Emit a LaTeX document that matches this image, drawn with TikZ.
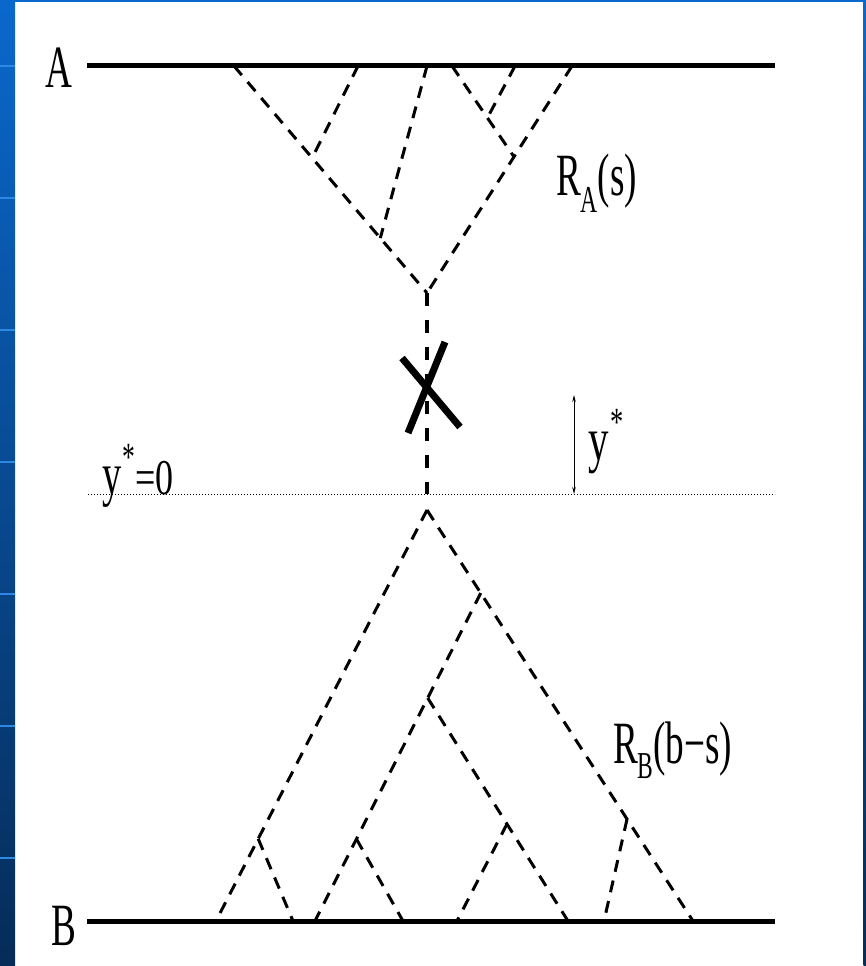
\documentclass[tikz,border=0pt]{standalone}
\usepackage{fontspec}
\setmainfont{Liberation Serif}
\usetikzlibrary{calc,arrows.meta}
\definecolor{slidetop}{RGB}{10,104,204}
\definecolor{slidebot}{RGB}{6,44,88}
\definecolor{slideline}{RGB}{45,135,228}
\tikzset{
  popline/.style={line width=5pt},
  lineage/.style={line width=3pt, dash pattern=on 12pt off 9pt},
  stem/.style={line width=3.2pt, dash pattern=on 13pt off 14pt},
  crossmark/.style={line width=7pt},
  zeroline/.style={line width=0.8pt, dash pattern=on 1pt off 2pt},
  lbl/.style={anchor=base west, inner sep=0pt, outer sep=0pt},
}
\newcommand{\bigtxt}[1]{\scalebox{0.62}[1]{\fontsize{60}{60}\selectfont #1}}
\begin{document}
\begin{tikzpicture}[x=1pt,y=-1pt]
\useasboundingbox (0,0) rectangle (866,966);
\fill[white] (0,0) rectangle (866,966);
\shade[top color=slidetop,bottom color=slidebot] (0,0) rectangle (15,966);
\shade[top color=slidetop,bottom color=slidebot] (863.5,0) rectangle (866,966);
\fill[slidetop] (0,0) rectangle (866,2);
\foreach \yy in {66,198,330,462,594,726,858} \draw[slideline, line width=1.5pt] (0,\yy) -- (15,\yy);

% population lines
\coordinate (Al) at (87,66);  \coordinate (Ar) at (775,66);
\coordinate (Bl) at (87,921); \coordinate (Br) at (775,921);
\draw[popline] (Al) -- (Ar);
\draw[popline] (Bl) -- (Br);
\node[lbl] (labA) at (45,88) {\bigtxt{A}};
\node[lbl] (labB) at (51,945) {\bigtxt{B}};

% upper tree R_A(s)
\coordinate (a1) at (234,66);
\coordinate (a2) at (358,66);
\coordinate (a3) at (427,66);
\coordinate (a4) at (452,66);
\coordinate (a5) at (515,66);
\coordinate (a6) at (572,66);
\coordinate (ra) at (427,293);
\coordinate (j1) at ($(a1)!0.405!(ra)$);
\coordinate (j2) at ($(a1)!0.758!(ra)$);
\coordinate (j3) at ($(a6)!0.40!(ra)$);
\coordinate (j4) at ($(a4)!0.571!(j3)$);
\draw[lineage] (a1) -- (ra);
\draw[lineage] (a6) -- (ra);
\draw[lineage] (a2) -- (j1);
\draw[lineage] (a3) -- (j2);
\draw[lineage] (a4) -- (j3);
\draw[lineage] (a5) -- (j4);

% stem and cross
\coordinate (y0) at (427,494);
\draw[stem] (ra) -- (y0);
\coordinate (c1a) at (402,358); \coordinate (c1b) at (460,427);
\coordinate (c2a) at (445,342); \coordinate (c2b) at (408,433);
\draw[crossmark] (c1a) -- (c1b);
\draw[crossmark] (c2a) -- (c2b);

% y*=0 line
\coordinate (zl) at (88,494); \coordinate (zr) at (775,494);
\draw[zeroline] (zl) -- (zr);
\node[lbl] (labz) at (102,494) {\scalebox{0.64}[1]{\fontsize{60}{60}\selectfont y\kern2pt\raisebox{0.40em}{\fontsize{40}{40}\selectfont *}}\scalebox{0.72}[1]{\fontsize{50}{50}\selectfont =0}};

% y* arrow
\coordinate (ya) at (574,395); \coordinate (yb) at (574,494);
\draw[{Stealth[length=7pt,width=3.5pt]}-{Stealth[length=7pt,width=3.5pt]}, line width=0.7pt] (ya) -- (yb);
\node[lbl] (labys) at (588,460) {\scalebox{0.66}[1]{\fontsize{62}{62}\selectfont y\kern3pt\raisebox{0.40em}{\fontsize{40}{40}\selectfont *}}};

% lower tree R_B(b-s)
\coordinate (rb) at (427,510);
\coordinate (b1) at (216,921);
\coordinate (b2) at (293,921);
\coordinate (b3) at (315,921);
\coordinate (b4) at (403,921);
\coordinate (b5) at (457,921);
\coordinate (b6) at (568,921);
\coordinate (b7) at (604,921);
\coordinate (b8) at (693,921);
\coordinate (k1) at ($(rb)!0.80!(b1)$);
\coordinate (k2) at ($(rb)!0.202!(b8)$);
\coordinate (k3) at ($(rb)!0.752!(b8)$);
\coordinate (k4) at ($(k2)!0.32!(b3)$);
\coordinate (k5) at ($(k2)!0.75!(b3)$);
\coordinate (k6) at ($(k4)!0.565!(b6)$);
\draw[lineage] (rb) -- (b1);
\draw[lineage] (rb) -- (b8);
\draw[lineage] (k1) -- (b2);
\draw[lineage] (k2) -- (b3);
\draw[lineage] (k3) -- (b7);
\draw[lineage] (k4) -- (b6);
\draw[lineage] (k5) -- (b4);
\draw[lineage] (k6) -- (b5);

% labels
\node[lbl] (labRA) at (556,195) {\scalebox{0.62}[1]{\fontsize{60}{60}\selectfont R\raisebox{-17pt}{\fontsize{38}{38}\selectfont A}(s)}};
\node[lbl] (labRB) at (613,763) {\scalebox{0.62}[1]{\fontsize{60}{60}\selectfont R\raisebox{-15pt}{\fontsize{38}{38}\selectfont B}(b−s)}};
\end{tikzpicture}
\end{document}
